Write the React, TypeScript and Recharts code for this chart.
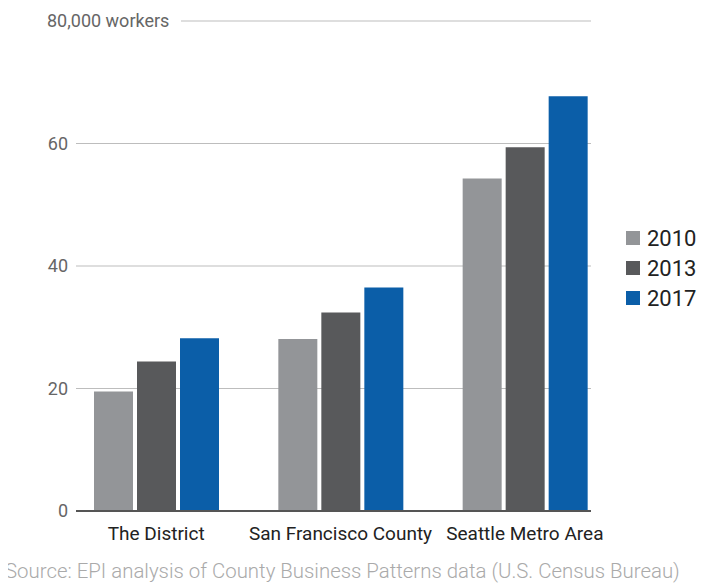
import { Bar, BarChart, CartesianGrid, XAxis, YAxis } from "recharts";

const AREAS = ["The District", "San Francisco County", "Seattle Metro Area"];
const Y2010 = [19.5, 28.1, 54.3];
const Y2013 = [24.4, 32.4, 59.4];
const Y2017 = [28.2, 36.5, 67.7];
const Y_TICKS = [0, 20, 40, 60, 80];

const SERIES = [
  { key: "y2010", name: "2010", color: "#939598" },
  { key: "y2013", name: "2013", color: "#58595b" },
  { key: "y2017", name: "2017", color: "#0b5ea8" },
];

const data = AREAS.map((area, i) => ({
  area,
  y2010: Y2010[i],
  y2013: Y2013[i],
  y2017: Y2017[i],
}));

const FONT = "Roboto, 'Noto Sans', sans-serif";

function YTick(props: any) {
  const { y, payload } = props;
  if (payload.value === 80) {
    return (
      <g>
        <text x={39} y={y} dy={6} fontSize={18} fill="#666" fontFamily={FONT}>
          80,000 workers
        </text>
        <line x1={173} x2={583} y1={y} y2={y} stroke="#bdbdbd" />
      </g>
    );
  }
  return (
    <text x={60} y={y} dy={6} textAnchor="end" fontSize={18} fill="#666" fontFamily={FONT}>
      {payload.value}
    </text>
  );
}

export default function App() {
  return (
    <div style={{ position: "relative", width: 697, height: 576 }}>
      <BarChart
        width={697}
        height={576}
        data={data}
        margin={{ top: 13, right: 114, bottom: 43, left: 0 }}
        barSize={39}
        barGap={4}
      >
        <CartesianGrid vertical={false} horizontalValues={[20, 40, 60]} stroke="#bdbdbd" />
        <XAxis
          dataKey="area"
          height={30}
          padding={{ left: -12, right: -26 }}
          tickLine={false}
          axisLine={{ stroke: "#555", strokeWidth: 2 }}
          tick={{ fontSize: 19, fill: "#222", fontFamily: FONT }}
          tickMargin={10}
        />
        <YAxis
          width={68}
          domain={[0, 80]}
          ticks={Y_TICKS}
          tickLine={false}
          axisLine={false}
          tick={<YTick />}
        />
        {SERIES.map((s) => (
          <Bar key={s.key} dataKey={s.key} name={s.name} fill={s.color} isAnimationActive={false} />
        ))}
      </BarChart>
      <div style={{ position: "absolute", left: 618, top: 215, fontFamily: FONT }}>
        {SERIES.map((s) => (
          <div key={s.key} style={{ display: "flex", alignItems: "center", height: 30 }}>
            <span style={{ width: 14, height: 14, background: s.color, marginRight: 7 }} />
            <span style={{ fontSize: 22, color: "#222" }}>{s.name}</span>
          </div>
        ))}
      </div>
      <div
        style={{
          position: "absolute",
          left: -3,
          top: 551,
          fontSize: 20.4,
          fontWeight: 300,
          color: "#aaa",
          fontFamily: FONT,
          whiteSpace: "nowrap",
        }}
      >
        Source: EPI analysis of County Business Patterns data (U.S. Census Bureau)
      </div>
    </div>
  );
}
